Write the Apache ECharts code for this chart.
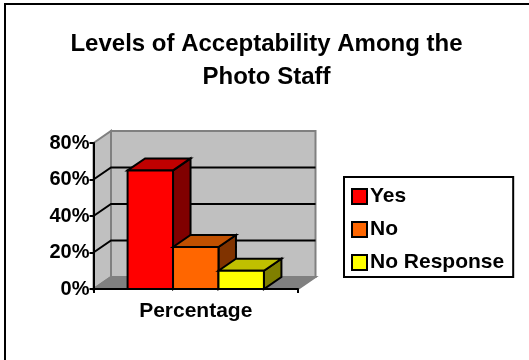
<!DOCTYPE html>
<html>
<head>
<meta charset="utf-8">
<style>html,body{margin:0;padding:0;background:#fff}#c{width:529px;height:360px}</style>
<script src="https://cdn.jsdelivr.net/npm/echarts@6/dist/echarts.min.js"></script>
</head>
<body>
<div id="c"></div>
<script>
// Survey results, in percent
const categories = ['Percentage'];
const responses = ['Yes', 'No', 'No Response'];
const yes = [65];
const no = [23];
const noResponse = [10];
const yTicks = [0, 20, 40, 60, 80];
const titleLines = ['Levels of Acceptability Among the', 'Photo Staff'];

const FONT = '"Liberation Sans", Arial, sans-serif';
// Oblique offset of the 3D box, in pixels
const DX = 17.5, DY = 12;

const faces = [
  { front: '#FF0000', top: '#C00000', side: '#800000' },
  { front: '#FF6600', top: '#C05000', side: '#803300' },
  { front: '#FFFF00', top: '#C0C000', side: '#808000' }
];

const stroke = { stroke: '#000', lineWidth: 2, lineJoin: 'miter' };

function poly(points, fill, line) {
  return { type: 'polygon', shape: { points }, style: Object.assign({ fill }, line) };
}

// Walls and floor of the box behind the bars
function renderWalls(params, api) {
  const r = params.coordSys;
  const l = r.x, t = r.y, b = r.y + r.height, e = r.x + r.width;
  const edge = { stroke: '#808080', lineWidth: 2 };
  return {
    type: 'group',
    children: [
      poly([[l, t], [l + DX, t - DY], [l + DX, b - DY], [l, b]], '#C0C0C0', edge),
      poly([[l + DX, t - DY], [e + DX, t - DY], [e + DX, b - DY], [l + DX, b - DY]], '#C0C0C0', edge),
      poly([[l, b], [l + DX, b - DY], [e + DX, b - DY], [e, b]], '#808080', edge)
    ]
  };
}

// One gridline, bent across the side wall and the back wall
function renderGridline(params, api) {
  const v = api.value(1);
  const r = params.coordSys;
  const y = api.coord([0, v])[1];
  return {
    type: 'polyline',
    shape: { points: [[r.x, y], [r.x + DX, y - DY], [r.x + r.width + DX, y - DY]] },
    style: { fill: 'none', stroke: '#000', lineWidth: 2 }
  };
}

// Three-faced column; Excel's 150% gap gives a width of band / 4.5
function renderColumn(index) {
  return function (params, api) {
    const p = api.coord([api.value(0), api.value(1)]);
    const base = api.coord([api.value(0), 0])[1];
    const band = api.size([1, 0])[0];
    const w = band / 4.5;
    const x0 = p[0] - w * 1.5 + index * w;
    const x1 = x0 + w;
    const y = p[1];
    const f = faces[index];
    return {
      type: 'group',
      children: [
        poly([[x1, y], [x1 + DX, y - DY], [x1 + DX, base - DY], [x1, base]], f.side, stroke),
        poly([[x0, y], [x0 + DX, y - DY], [x1 + DX, y - DY], [x1, y]], f.top, stroke),
        poly([[x0, y], [x1, y], [x1, base], [x0, base]], f.front, stroke)
      ]
    };
  };
}

const columnValues = [yes, no, noResponse];

const option = {
  animation: false,
  backgroundColor: '#fff',
  title: {
    text: titleLines.join('\n'),
    left: 261.5, top: 23, textAlign: 'center',
    textStyle: { fontFamily: FONT, fontWeight: 'bold', fontSize: 24, lineHeight: 33, color: '#000' }
  },
  grid: { left: 93.5, top: 143, width: 204.5, height: 146 },
  legend: {
    data: responses,
    orient: 'vertical',
    left: 344, top: 177,
    padding: [9, 9, 4, 7],
    itemGap: 12,
    itemWidth: 15, itemHeight: 15,
    icon: 'rect',
    borderColor: '#000', borderWidth: 2,
    backgroundColor: '#fff',
    textStyle: { fontFamily: FONT, fontWeight: 'bold', fontSize: 21, color: '#000', padding: [0, 0, 0, -2] }
  },
  xAxis: {
    type: 'category',
    z: 20,
    data: categories,
    axisLine: { lineStyle: { color: '#000', width: 2 } },
    axisTick: { show: true, length: 4, lineStyle: { color: '#000', width: 2 } },
    axisLabel: { fontFamily: FONT, fontWeight: 'bold', fontSize: 21, color: '#000', margin: 12 }
  },
  yAxis: {
    type: 'value',
    z: 20,
    min: yTicks[0], max: yTicks[yTicks.length - 1], interval: 20,
    axisLine: { show: true, lineStyle: { color: '#000', width: 2 } },
    axisTick: { show: true, length: 4, lineStyle: { color: '#000', width: 2 } },
    splitLine: { show: false },
    axisLabel: { formatter: '{value}%', fontFamily: FONT, fontWeight: 'bold', fontSize: 20, color: '#000', margin: 4 }
  },
  graphic: [{
    type: 'polyline',
    shape: { points: [[5, 360], [5, 4], [529, 4]] },
    style: { fill: 'none', stroke: '#000', lineWidth: 2 }
  }],
  series: [
    { type: 'custom', name: 'walls', silent: true, z: 1, renderItem: renderWalls, data: [[0, 0]] },
    {
      type: 'custom', name: 'gridlines', silent: true, z: 2, renderItem: renderGridline,
      data: yTicks.slice(1, -1).map(v => [0, v])
    }
  ].concat(responses.map((name, i) => ({
    type: 'custom',
    name,
    z: 3 + i,
    renderItem: renderColumn(i),
    itemStyle: { color: faces[i].front, borderColor: '#000', borderWidth: 2 },
    encode: { x: 0, y: 1 },
    data: columnValues[i].map((v, k) => [k, v])
  })))
};

echarts.init(document.getElementById('c'), null, { renderer: 'canvas' }).setOption(option);
</script>
</body>
</html>
